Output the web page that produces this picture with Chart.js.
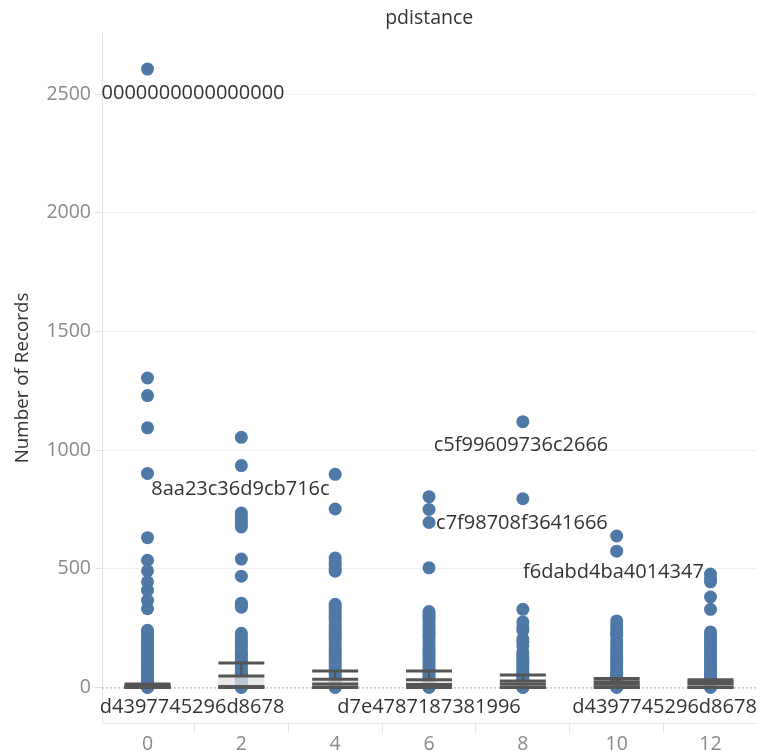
<!DOCTYPE html>
<html>
<head>
<meta charset="utf-8">
<script src="https://cdn.jsdelivr.net/npm/chart.js@4/dist/chart.umd.min.js"></script>
<style>
  body { margin: 0; background: #fff; }
  canvas { display: block; }
</style>
</head>
<body>
<canvas id="recordsChart" width="763" height="751"></canvas>
<script>
// x categories (pdistance) and the records seen at each one
const pdistance = [0, 2, 4, 6, 8, 10, 12];

const records0 = [2606, 1304, 1230, 1094, 902, 631, 536, 491, 445, 410, 367, 332,
    241, 230, 218, 206, 195, 184, 172, 161, 150, 139, 128, 118, 107, 97, 87, 78, 69,
    60, 52, 44, 37, 30, 24, 18, 13, 9, 6, 3, 1, 0];
const records2 = [1054, 935, 735, 720, 705, 690, 676, 541, 469, 355, 345, 338,
    228, 217, 205, 193, 182, 170, 158, 147, 136, 125, 114, 104, 94, 84, 74, 65, 56,
    48, 40, 33, 26, 20, 14, 9, 5, 2, 0];
const records4 = [898, 752, 545, 530, 515, 500, 490,
    350, 338, 325, 312, 300, 288, 276, 264, 252, 240, 228, 216, 204, 192, 180, 168,
    156, 144, 132, 121, 110, 99, 88, 78, 68, 58, 49, 40, 32, 24, 17, 11, 6, 2, 0];
const records6 = [804, 750, 695, 504,
    320, 308, 296, 284, 272, 260, 248, 236, 224, 212, 200, 188, 176, 164, 152, 140,
    128, 117, 106, 95, 84, 74, 64, 55, 46, 38, 30, 23, 16, 10, 5, 2, 0];
const records8 = [1120, 795, 329, 276, 255, 241, 205, 191, 175,
    150, 138, 126, 114, 102, 91, 80, 70, 60, 51, 42, 34, 26, 19, 13, 8, 4, 1, 0];
const records10 = [638, 574, 280, 262, 248, 232, 220, 200, 185, 170, 155, 142,
    130, 118, 106, 95, 84, 74, 64, 55, 46, 38, 30, 23, 17, 11, 6, 3, 0];
const records12 = [478, 460, 445, 381, 329,
    234, 222, 210, 198, 186, 174, 162, 150, 138, 127, 116, 105, 94, 84, 74, 64, 55,
    46, 38, 30, 23, 17, 11, 6, 3, 0];

const recordsByDistance = [records0, records2, records4, records6, records8, records10, records12];

// box plot statistics per pdistance
const boxLow    = [0, 0, 0, 0, 0, 0, 0];
const boxQ1     = [0, 0, 1, 1, 1, 1, 1];
const boxMedian = [2, 4, 14, 12, 14, 13, 15];
const boxQ3     = [6, 48, 34, 32, 27, 24, 24];
const boxHigh   = [14, 103, 69, 69, 52, 38, 32];

// mark labels (text + where they sit in data units)
const labelText = ['0000000000000000', '8aa23c36d9cb716c', 'c5f99609736c2666',
    'c7f98708f3641666', 'f6dabd4ba4014347', 'd4397745296d8678', 'd7e4787187381996',
    'd4397745296d8678'];
const labelX = [0.97, 1.98, 7.96, 7.98, 9.93, 0.95, 6.0, 11.02];
const labelY = [2504, 836, 1022, 693, 486, -84, -84, -84];

const yTicks = [0, 500, 1000, 1500, 2000, 2500];

const FONT = '"Open Sans", "Noto Sans", sans-serif';
Chart.defaults.font.family = FONT;

const points = [];
pdistance.forEach((d, i) => {
    recordsByDistance[i].forEach(v => points.push({ x: d, y: v }));
});

const overlay = {
    id: 'overlay',
    beforeDatasetsDraw(chart) {
        const { ctx, chartArea, scales } = chart;
        const y0 = scales.y.getPixelForValue(0);
        ctx.save();
        ctx.strokeStyle = '#b0b0b0';
        ctx.lineWidth = 1;
        ctx.setLineDash([2, 2]);
        ctx.beginPath();
        ctx.moveTo(chartArea.left, y0 + 0.5);
        ctx.lineTo(chartArea.right, y0 + 0.5);
        ctx.stroke();
        ctx.restore();
    },
    afterDatasetsDraw(chart) {
        const { ctx, chartArea, scales } = chart;
        const xs = scales.x, ys = scales.y;
        ctx.save();
        pdistance.forEach((d, i) => {
            const left = xs.getPixelForValue(d - 0.49);
            const right = xs.getPixelForValue(d + 0.49);
            const cx = xs.getPixelForValue(d);
            const yLow = ys.getPixelForValue(boxLow[i]);
            const yQ1 = ys.getPixelForValue(boxQ1[i]);
            const yMed = ys.getPixelForValue(boxMedian[i]);
            const yQ3 = ys.getPixelForValue(boxQ3[i]);
            const yHigh = ys.getPixelForValue(boxHigh[i]);

            ctx.fillStyle = 'rgba(225,225,225,0.75)';
            ctx.fillRect(left, yQ3, right - left, yMed - yQ3);
            ctx.fillStyle = 'rgba(195,195,195,0.75)';
            ctx.fillRect(left, yMed, right - left, yQ1 - yMed);

            ctx.strokeStyle = '#555';
            ctx.lineWidth = 2;
            ctx.beginPath();
            ctx.moveTo(cx, yQ3);
            ctx.lineTo(cx, yHigh);
            ctx.moveTo(cx, yQ1);
            ctx.lineTo(cx, yLow);
            ctx.stroke();

            ctx.lineWidth = 3;
            [yHigh, yQ3, yMed, yQ1, yLow].forEach(py => {
                ctx.beginPath();
                ctx.moveTo(left, py);
                ctx.lineTo(right, py);
                ctx.stroke();
            });
        });

        ctx.fillStyle = '#333';
        ctx.font = '20px ' + FONT;
        ctx.textAlign = 'center';
        ctx.textBaseline = 'middle';
        labelText.forEach((t, i) => {
            ctx.fillText(t, xs.getPixelForValue(labelX[i]), ys.getPixelForValue(labelY[i]));
        });

        ctx.font = '19.5px ' + FONT;
        ctx.fillText('pdistance', (chartArea.left + chartArea.right) / 2, 18);
        ctx.restore();
    }
};

const ctx = document.getElementById('recordsChart').getContext('2d');

const recordsChart = new Chart(ctx, {
    type: 'scatter',
    data: {
        datasets: [{
            data: points,
            backgroundColor: '#4e79a7',
            borderWidth: 0,
            pointRadius: 6.5,
            pointHoverRadius: 6.5
        }]
    },
    options: {
        responsive: false,
        animation: false,
        layout: { padding: { top: 33, left: 0, right: 0, bottom: 0 } },
        plugins: {
            legend: { display: false },
            tooltip: { enabled: false },
            title: { display: false }
        },
        scales: {
            x: {
                type: 'linear',
                min: -0.97,
                max: 12.98,
                afterBuildTicks: scale => {
                    scale.ticks = [0, 1, 2, 3, 4, 5, 6, 7, 8, 9, 10, 11, 12].map(v => ({ value: v }));
                },
                afterFit: scale => { scale.height = 28; },
                ticks: {
                    autoSkip: false,
                    maxRotation: 0,
                    padding: 0,
                    color: '#8a8a8a',
                    font: { size: 19.5 },
                    callback: v => (v % 2 === 0 ? String(v) : '')
                },
                grid: {
                    drawOnChartArea: false,
                    drawTicks: true,
                    tickLength: 10,
                    color: c => (c.tick && c.tick.value % 2 !== 0 ? '#e3e3e3' : 'rgba(0,0,0,0)')
                },
                border: { color: '#e3e3e3' }
            },
            y: {
                min: -150,
                max: 2758,
                afterBuildTicks: scale => {
                    scale.ticks = yTicks.map(v => ({ value: v }));
                },
                afterFit: scale => { scale.width = 102; },
                ticks: {
                    padding: 4,
                    color: '#8a8a8a',
                    font: { size: 19.5 },
                    callback: v => String(v)
                },
                grid: {
                    color: c => (c.tick && c.tick.value === 0 ? 'rgba(0,0,0,0)' : '#efefef'),
                    tickColor: '#e3e3e3',
                    tickLength: 7
                },
                border: { color: '#e3e3e3' },
                title: {
                    display: true,
                    text: 'Number of Records',
                    color: '#333',
                    font: { size: 18.8 },
                    padding: { top: 11, bottom: 0 }
                }
            }
        }
    },
    plugins: [overlay]
});
</script>
</body>
</html>
